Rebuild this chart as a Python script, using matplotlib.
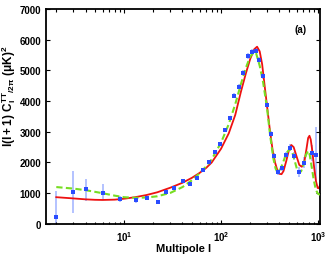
import numpy as np
import matplotlib
matplotlib.use('Agg')
import matplotlib.pyplot as plt
from matplotlib.ticker import FixedLocator, FuncFormatter, LogLocator, NullFormatter

plt.rcParams['font.family'] = ['Liberation Sans', 'DejaVu Sans']
plt.rcParams['font.weight'] = 'bold'
plt.rcParams['mathtext.fontset'] = 'custom'
plt.rcParams['mathtext.rm'] = 'Liberation Sans:bold'
plt.rcParams['mathtext.bf'] = 'Liberation Sans:bold'
plt.rcParams['mathtext.it'] = 'Liberation Sans:bold'

# datos binned (puntos azules)
l_data = [2, 3, 4, 6, 9, 13.3, 17.3, 22.4, 27, 33, 40.5, 48, 56.5, 65, 75, 86, 98, 110,
          124, 136, 153, 168, 190, 208, 229, 246, 270, 297, 327, 350, 386, 424, 467,
          514, 565, 636, 715, 867, 950]
cl_data = [230, 1040, 1130, 1000, 815, 790, 850, 720, 1040, 1170, 1400, 1300, 1500,
           1760, 2020, 2350, 2600, 3060, 3450, 4170, 4460, 4920, 5470, 5610, 5640,
           5340, 4820, 3880, 2930, 2210, 1690, 1820, 2250, 2480, 2210, 1690, 1990,
           2310, 2250]
err_lo = [230, 700, 370, 220, 95, 100, 70, 70, 60, 60, 60, 60, 60, 60, 60, 60, 60, 70,
          70, 80, 80, 80, 90, 90, 90, 90, 90, 90, 90, 90, 90, 100, 100, 120, 130, 150,
          180, 250, 880]
err_hi = [840, 680, 320, 300, 105, 90, 70, 70, 60, 60, 60, 60, 60, 60, 60, 60, 60, 70,
          70, 80, 80, 80, 90, 90, 90, 90, 90, 90, 90, 90, 90, 100, 100, 120, 130, 150,
          180, 250, 910]

# modelo 1 (linea roja)
l_red = [2, 3, 4, 5, 6, 8, 10, 13, 17, 22, 30, 40, 50, 60, 70, 80, 100, 120, 140, 160,
         180, 200, 220, 235, 250, 265, 280, 300, 320, 340, 360, 380, 400, 420, 440, 470,
         500, 530, 560, 600, 640, 680, 720, 760, 790, 815, 840, 870, 910, 950, 990,
         1020, 1050]
cl_red = [870, 830, 800, 785, 780, 790, 820, 870, 940, 1030, 1180, 1340, 1500, 1660,
          1820, 2000, 2450, 2950, 3550, 4300, 4900, 5380, 5690, 5770, 5620, 5200, 4550,
          3750, 3000, 2400, 2000, 1750, 1630, 1620, 1720, 2050, 2400, 2570, 2500, 2200,
          1920, 1860, 2000, 2450, 2800, 2870, 2750, 2400, 1850, 1400, 1170, 1160, 1280]

# modelo 2 (linea verde discontinua)
l_green = [2, 3, 4, 6, 8, 10, 13, 17, 22, 30, 40, 50, 60, 70, 80, 100, 120, 140, 160,
           180, 200, 220, 230, 250, 270, 297, 320, 345, 365, 380, 400, 430, 470, 510,
           540, 580, 610, 640, 670, 710, 750, 790, 820, 860, 900, 950, 1000, 1050]
cl_green = [1200, 1150, 1100, 1000, 920, 870, 850, 860, 900, 1010, 1200, 1420, 1650,
            1870, 2100, 2650, 3250, 3900, 4550, 5080, 5460, 5600, 5550, 5150, 4650,
            3800, 2900, 2150, 1800, 1690, 1720, 1950, 2300, 2440, 2350, 2000, 1750,
            1660, 1720, 1950, 2250, 2380, 2250, 1850, 1450, 1100, 980, 950]

fig = plt.figure(figsize=(3.27, 2.55), dpi=100)
ax = fig.add_axes([0.141, 0.118, 0.838, 0.843])

ax.errorbar(l_data, cl_data, yerr=[err_lo, err_hi], fmt='none', ecolor='#9fb2ff',
            elinewidth=1.1, zorder=1)
ax.plot(l_data, cl_data, 's', color='#2a4cff', markersize=3.4, markeredgewidth=0, zorder=4)
ax.plot(l_red, cl_red, '-', color='#ee1111', lw=1.3, zorder=2)
ax.plot(l_green, cl_green, '--', color='#77dd22', lw=1.5, dashes=(3, 1.6), zorder=3)

ax.set_xscale('log')
ax.set_xlim(1.57, 1050)
ax.set_ylim(0, 7000)

ax.xaxis.set_major_locator(FixedLocator([10, 100, 1000]))
ax.xaxis.set_major_formatter(FuncFormatter(lambda v, p: r'$\mathbf{10^{%d}}$' % round(np.log10(v))))
ax.xaxis.set_minor_locator(LogLocator(base=10, subs=np.arange(2, 10)))
ax.xaxis.set_minor_formatter(NullFormatter())
ax.set_yticks(np.arange(0, 7001, 1000))

ax.tick_params(which='both', direction='in', top=True, right=True, labelsize=7,
               width=0.8)
ax.tick_params(which='major', length=3)
ax.tick_params(which='minor', length=1.8)
for lab in ax.get_yticklabels():
    lab.set_fontweight('bold')
for s in ax.spines.values():
    s.set_linewidth(1.3)

ax.set_xlabel('Multipole l', fontsize=8, fontweight='bold', labelpad=0)
ax.set_ylabel(r'$\mathbf{l(l+1)\ C_l^{TT}{}_{/2\pi}\ (\mu K)^2}$', fontsize=8.5)
ax.yaxis.set_label_coords(-0.103, 0.6)
ax.text(0.927, 0.905, '(a)', transform=ax.transAxes, fontsize=7, fontweight='bold',
        ha='center', va='center')

fig.savefig('out.png', dpi=100)
